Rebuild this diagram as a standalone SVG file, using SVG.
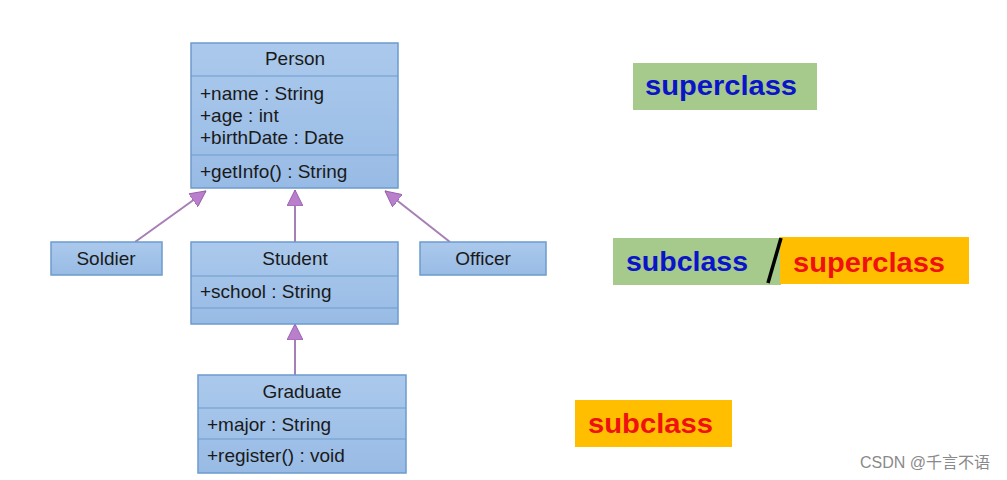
<svg xmlns="http://www.w3.org/2000/svg" width="1007" height="480" viewBox="0 0 1007 480">
<defs>
<linearGradient id="g" x1="0" y1="0" x2="0" y2="1">
<stop offset="0" stop-color="#abc9ec"/>
<stop offset="1" stop-color="#98bbe5"/>
</linearGradient>
<marker id="tri" viewBox="0 0 16 16" refX="16" refY="8" markerWidth="16" markerHeight="16" markerUnits="userSpaceOnUse" orient="auto">
<path d="M0,0 L16,8 L0,16 Z" fill="#b97fcc" stroke="#9a62ad" stroke-width="1"/>
</marker>
<style>
.box{fill:url(#g);stroke:#6d9bcd;stroke-width:1.5}
.div{stroke:#6d9bcd;stroke-width:1.2}
.t{font-family:"Liberation Sans",Arial,sans-serif;font-size:19px;fill:#1a1a1a}
.c{text-anchor:middle}
.con{stroke:#a67fb5;stroke-width:2;fill:none;marker-end:url(#tri)}
.lbl{font-family:"Liberation Sans",Arial,sans-serif;font-weight:bold;font-size:28px}
</style>
</defs>
<rect width="1007" height="480" fill="#ffffff"/>

<g id="connectors">
<line class="con" x1="135" y1="242" x2="206" y2="191"/>
<line class="con" x1="295" y1="242" x2="295" y2="190"/>
<line class="con" x1="450" y1="242" x2="385" y2="191"/>
<line class="con" x1="295" y1="375" x2="295" y2="324"/>
</g>

<g id="person">
<rect class="box" x="191" y="43" width="207" height="145"/>
<line class="div" x1="191" y1="76" x2="398" y2="76"/>
<line class="div" x1="191" y1="155" x2="398" y2="155"/>
<text class="t c" x="295" y="65">Person</text>
<text class="t" x="200" y="100">+name : String</text>
<text class="t" x="200" y="122">+age : int</text>
<text class="t" x="200" y="144">+birthDate : Date</text>
<text class="t" x="200" y="178">+getInfo() : String</text>
</g>

<g id="soldier">
<rect class="box" x="51" y="242" width="111" height="33"/>
<text class="t c" x="106" y="265">Soldier</text>
</g>

<g id="student">
<rect class="box" x="191" y="242" width="207" height="82"/>
<line class="div" x1="191" y1="276" x2="398" y2="276"/>
<line class="div" x1="191" y1="308" x2="398" y2="308"/>
<text class="t c" x="295" y="265">Student</text>
<text class="t" x="200" y="298">+school : String</text>
</g>

<g id="officer">
<rect class="box" x="420" y="242" width="126" height="33"/>
<text class="t c" x="483" y="265">Officer</text>
</g>

<g id="graduate">
<rect class="box" x="198" y="375" width="208" height="98"/>
<line class="div" x1="198" y1="408" x2="406" y2="408"/>
<line class="div" x1="198" y1="439" x2="406" y2="439"/>
<text class="t c" x="302" y="398">Graduate</text>
<text class="t" x="207" y="431">+major : String</text>
<text class="t" x="207" y="462">+register() : void</text>
</g>

<g id="label-superclass">
<rect x="633" y="63" width="184" height="47" fill="#a6c98c"/>
<text class="lbl" x="645" y="95" fill="#0a14c8" textLength="152" lengthAdjust="spacingAndGlyphs">superclass</text>
</g>

<g id="label-sub-super">
<rect x="613" y="238" width="168" height="47" fill="#a6c98c"/>
<rect x="780" y="237" width="189" height="47" fill="#ffbf00"/>
<line x1="768" y1="283" x2="781" y2="238" stroke="#000" stroke-width="3.5"/>
<text class="lbl" x="626" y="271" fill="#0a14c8" textLength="122" lengthAdjust="spacingAndGlyphs">subclass</text>
<text class="lbl" x="793" y="272" fill="#f01010" textLength="152" lengthAdjust="spacingAndGlyphs">superclass</text>
</g>

<g id="label-subclass">
<rect x="575" y="400" width="157" height="47" fill="#ffbf00"/>
<text class="lbl" x="588" y="433" fill="#f01010" textLength="125" lengthAdjust="spacingAndGlyphs">subclass</text>
</g>

<text x="990" y="468" text-anchor="end" font-family="'Liberation Sans','Noto Sans CJK SC',sans-serif" font-size="16" fill="#8a8a8a">CSDN @千言不语</text>
</svg>
